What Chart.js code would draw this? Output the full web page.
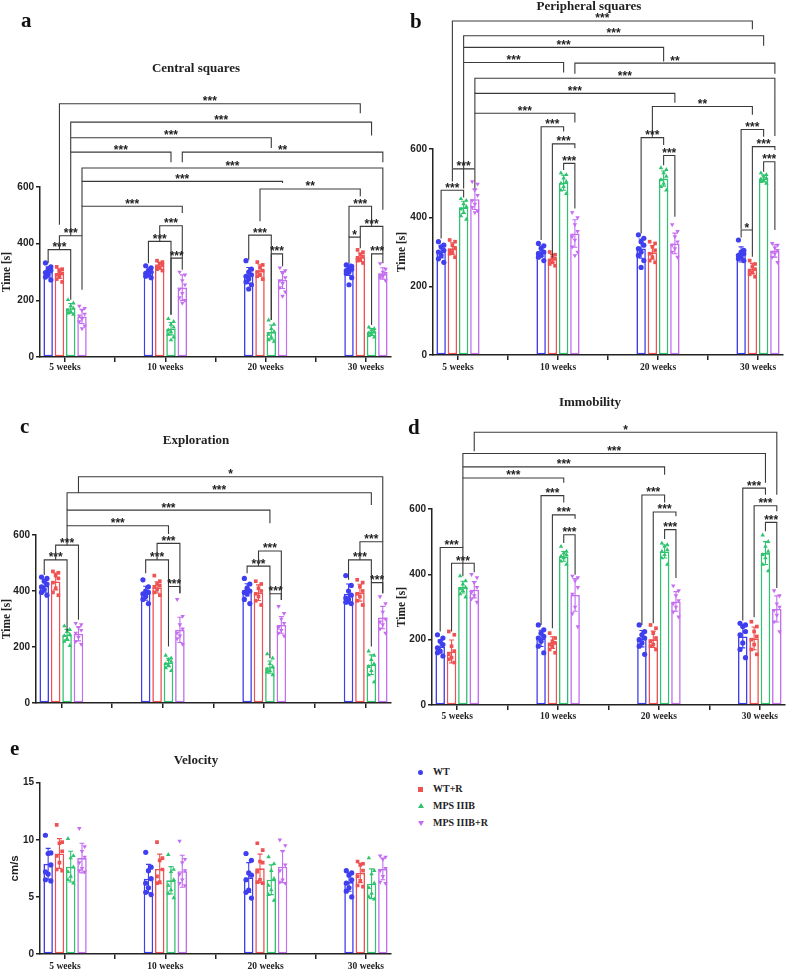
<!DOCTYPE html>
<html>
<head>
<meta charset="utf-8">
<script src="https://cdn.jsdelivr.net/npm/chart.js@4.4.1/dist/chart.umd.min.js"></script>
<style>
  body { margin: 0; background: #fff; width: 790px; height: 974px; position: relative; overflow: hidden; }
  canvas { position: absolute; }
  .letter { position: absolute; font: bold 21px 'Liberation Serif', serif; color: #111; line-height: 21px; }
  .key { position: absolute; left: 416px; height: 12px; font: bold 10px 'Liberation Serif', serif; color: #222; line-height: 12px; }
  .key span { position: absolute; left: 17px; top: 0; white-space: nowrap; }
  .key i { position: absolute; display: block; }
</style>
</head>
<body>
<canvas id="ca" width="395" height="380" style="left:0;top:0"></canvas>
<canvas id="cb" width="395" height="380" style="left:395px;top:0"></canvas>
<canvas id="cc" width="395" height="345" style="left:0;top:380px"></canvas>
<canvas id="cd" width="395" height="345" style="left:395px;top:380px"></canvas>
<canvas id="ce" width="395" height="239" style="left:0;top:735px"></canvas>

<div class="letter" style="left:21px;top:10px">a</div>
<div class="letter" style="left:410px;top:11px">b</div>
<div class="letter" style="left:20px;top:416px">c</div>
<div class="letter" style="left:408px;top:417px">d</div>
<div class="letter" style="left:10px;top:738px">e</div>

<div id="legend"></div>

<script>
const weeks = ['5 weeks', '10 weeks', '20 weeks', '30 weeks'];
const groups = ['WT', 'WT+R', 'MPS IIIB', 'MPS IIIB+R'];
const colors = ['#3f3ff0', '#ee5252', '#2fc36f', '#c46ef0'];
const shapes = ['circle', 'rect', 'triangle', 'triangle'];
const turns = [0, 0, 0, 180];

// a - central squares (rows: groups, columns: weeks)
const centralMean = [[300, 300, 288, 308], [294, 322, 305, 352], [172, 100, 88, 88], [143, 245, 272, 295]];
const centralSd = [[18, 15, 28, 20], [17, 12, 20, 15], [17, 22, 25, 12], [25, 45, 30, 20]];
const centralPts = [
  [[332, 318, 310, 305, 298, 290, 282, 272, 300], [322, 315, 305, 300, 295, 290, 285, 280], [340, 310, 300, 290, 285, 275, 265, 255, 240], [325, 320, 315, 310, 305, 300, 295, 280, 255]],
  [[318, 310, 300, 295, 290, 285, 275, 265, 305], [340, 335, 330, 325, 320, 315, 310, 305], [335, 325, 315, 305, 300, 290, 285, 275], [378, 370, 362, 355, 350, 345, 340, 332]],
  [[202, 190, 180, 172, 165, 160, 155, 150], [135, 125, 115, 105, 95, 88, 80, 70, 60], [130, 115, 100, 90, 80, 70, 60, 55], [105, 100, 95, 90, 85, 80, 75, 70]],
  [[180, 172, 165, 152, 145, 135, 125, 110, 100], [300, 290, 270, 255, 240, 225, 210, 200, 190], [315, 305, 295, 280, 270, 260, 245, 230, 215], [330, 310, 300, 295, 290, 285, 280, 270]]
];
// [week1, group1, week2, group2, level, leg1 end, leg2 end, label]
const centralSig = [
  [0, 1, 3, 1, 894, 467, 860, '***'], [0, 2, 3, 2, 829, 774, 782, '***'], [0, 2, 2, 2, 774, 723, 738, '***'],
  [0, 2, 1, 2, 723, 428, 687, '***'], [1, 3, 3, 3, 723, 687, 687, '**'], [0, 3, 3, 3, 667, 620, 520, '***'],
  [0, 3, 2, 3, 620, 532, 614, '***'], [0, 3, 1, 3, 532, 428, 508, '***'], [2, 1, 3, 1, 593, 479, 567, '**'],
  [0, 0, 0, 2, 379, 331, 202, '***'], [0, 1, 0, 3, 428, 379, 237, '***'],
  [1, 0, 1, 2, 408, 331, 149, '***'], [1, 1, 1, 3, 463, 408, 349, '***'], [1, 2, 1, 3, 349, 149, 308, '***'],
  [2, 0, 2, 2, 430, 343, 131, '***'], [2, 2, 2, 3, 364, 131, 320, '***'],
  [3, 0, 3, 2, 532, 423, 461, '***'], [3, 0, 3, 1, 423, 331, 384, '*'], [3, 1, 3, 3, 461, 423, 364, '***'],
  [3, 2, 3, 3, 364, 113, 331, '***']
];

// b - peripheral squares
const periphMean = [[301, 302, 310, 293], [310, 281, 299, 252], [430, 502, 514, 514], [454, 354, 325, 303]];
const periphSd = [[18, 15, 28, 22], [17, 12, 20, 15], [18, 22, 22, 10], [30, 40, 30, 18]];
const periphPts = [
  [[330, 320, 315, 305, 300, 290, 280, 270], [325, 318, 310, 300, 295, 290, 285, 275], [350, 340, 330, 320, 310, 300, 290, 275, 255], [335, 305, 300, 295, 290, 285, 280, 275]],
  [[335, 330, 320, 312, 305, 300, 295, 285], [300, 292, 285, 280, 275, 270, 265, 260], [330, 325, 315, 305, 295, 285, 275, 270], [275, 265, 258, 250, 245, 240, 235, 228]],
  [[455, 450, 440, 432, 425, 415, 405, 395], [530, 525, 515, 505, 500, 490, 480, 470], [545, 540, 530, 520, 510, 500, 490, 480], [530, 525, 520, 515, 512, 508, 505, 500]],
  [[505, 498, 480, 465, 450, 440, 430, 420, 415], [415, 400, 380, 360, 345, 335, 315, 300, 290], [380, 360, 345, 330, 320, 310, 300, 285], [325, 320, 312, 305, 300, 295, 285, 270]]
];
const periphSig = [
  [0, 1, 3, 1, 973, 544, 949, '***'], [0, 2, 3, 2, 930, 896, 901, '***'], [0, 2, 2, 2, 896, 852, 855, '***'],
  [0, 2, 1, 2, 852, 485, 823, '***'], [1, 3, 3, 3, 850, 819, 819, '**'], [0, 3, 3, 3, 806, 762, 638, '***'],
  [0, 3, 2, 3, 762, 704, 735, '***'], [2, 1, 3, 1, 724, 636, 700, '**'], [0, 3, 1, 3, 704, 544, 677, '***'],
  [1, 0, 1, 2, 665, 335, 651, '***'], [1, 1, 1, 3, 615, 284, 602, '***'], [1, 2, 1, 3, 558, 539, 427, '***'],
  [2, 0, 2, 2, 633, 354, 612, '***'], [2, 2, 2, 3, 581, 553, 403, '***'],
  [3, 0, 3, 2, 657, 366, 636, '***'], [3, 1, 3, 3, 607, 364, 597, '***'], [3, 2, 3, 3, 563, 534, 364, '***'],
  [3, 0, 3, 1, 364, 342, 286, '*'], [0, 0, 0, 2, 480, 339, 459, '***'], [0, 1, 0, 3, 542, 505, 485, '***']
];

// c - exploration
const explMean = [[418, 392, 404, 390], [434, 413, 394, 394], [243, 145, 128, 137], [247, 261, 279, 305]];
const explSd = [[22, 25, 22, 35], [30, 20, 28, 30], [20, 15, 22, 35], [25, 45, 30, 40]];
const explPts = [
  [[450, 445, 435, 425, 415, 405, 395, 385], [440, 415, 400, 395, 390, 380, 370, 355], [445, 425, 410, 400, 395, 390, 370, 355], [455, 420, 400, 385, 375, 370, 360, 355]],
  [[470, 465, 455, 445, 430, 410, 395, 385], [455, 435, 425, 420, 415, 405, 395, 385], [435, 425, 410, 400, 390, 380, 365, 350], [440, 430, 415, 400, 390, 380, 365, 350]],
  [[275, 262, 255, 245, 240, 230, 220, 205], [170, 160, 155, 148, 140, 135, 125, 115], [175, 160, 140, 130, 120, 115, 110, 100], [185, 170, 155, 140, 130, 115, 100, 75]],
  [[285, 280, 270, 260, 250, 235, 220, 210], [370, 310, 280, 265, 250, 240, 230, 210], [345, 320, 300, 285, 270, 260, 250, 240], [380, 355, 325, 300, 290, 280, 265, 250]]
];
const explSig = [
  [0, 3, 3, 3, 808, 751, 576, '*'], [0, 2, 3, 2, 751, 689, 707, '***'], [0, 2, 2, 2, 689, 633, 642, '***'],
  [0, 2, 1, 2, 633, 564, 604, '***'], [0, 0, 0, 2, 511, 457, 255, '***'], [0, 1, 0, 3, 564, 511, 297, '***'],
  [1, 0, 1, 2, 511, 463, 416, '***'], [1, 1, 1, 3, 570, 511, 392, '***'], [1, 2, 1, 3, 416, 202, 392, '***'],
  [2, 0, 2, 2, 489, 463, 390, '***'], [2, 1, 2, 3, 543, 489, 368, '***'], [2, 2, 2, 3, 390, 160, 368, '***'],
  [3, 1, 3, 3, 576, 511, 392, '***'], [3, 0, 3, 2, 511, 440, 430, '***'], [3, 2, 3, 3, 430, 202, 392, '***']
];

// d - immobility
const immobMean = [[179, 204, 203, 210], [164, 191, 201, 204], [361, 455, 470, 465], [353, 337, 317, 294]];
const immobSd = [[20, 25, 25, 35], [35, 18, 25, 35], [18, 15, 20, 35], [25, 50, 30, 40]];
const immobPts = [
  [[215, 205, 195, 185, 175, 165, 160, 150], [245, 230, 220, 210, 205, 195, 180, 160], [245, 225, 215, 205, 200, 190, 180, 155], [250, 245, 240, 225, 215, 190, 170, 145]],
  [[225, 215, 180, 165, 155, 145, 140, 130], [220, 205, 195, 190, 185, 180, 170, 160], [245, 235, 220, 205, 195, 185, 180, 170], [255, 240, 225, 210, 200, 185, 170, 155]],
  [[395, 380, 370, 360, 355, 350, 340, 330], [485, 470, 465, 460, 455, 450, 440, 430], [495, 490, 485, 475, 470, 460, 450, 430], [520, 500, 485, 470, 460, 450, 430, 410]],
  [[400, 390, 375, 360, 345, 335, 325, 315], [395, 390, 380, 360, 340, 300, 280, 240], [365, 350, 335, 320, 310, 300, 285, 270], [350, 335, 310, 300, 290, 275, 255, 225]]
];
const immobSig = [
  [0, 3, 3, 3, 835, 777, 644, '*'], [0, 2, 3, 2, 770, 729, 680, '***'], [0, 2, 2, 2, 729, 695, 705, '***'],
  [0, 2, 1, 2, 695, 482, 680, '***'], [0, 0, 0, 2, 482, 225, 394, '***'], [0, 1, 0, 3, 434, 225, 406, '***'],
  [1, 0, 1, 2, 641, 245, 620, '***'], [1, 1, 1, 3, 582, 235, 570, '***'], [1, 2, 1, 3, 521, 496, 399, '***'],
  [2, 0, 2, 2, 643, 245, 620, '***'], [2, 1, 2, 3, 591, 250, 578, '***'], [2, 2, 2, 3, 537, 508, 389, '***'],
  [3, 0, 3, 2, 664, 259, 644, '***'], [3, 1, 3, 3, 610, 269, 593, '***'], [3, 2, 3, 3, 559, 532, 358, '***']
];

// e - velocity
const veloMean = [[7.9, 6.6, 6.7, 6.3], [8.8, 7.45, 7.5, 7.1], [7.65, 6.45, 6.5, 6.15], [8.4, 7.25, 7.65, 7.45]];
const veloSd = [[1.35, 1.25, 1.3, 0.8], [1.3, 1.3, 1.25, 0.85], [1.35, 1.2, 1.3, 1.3], [1.3, 1.4, 1.4, 0.95]];
const veloPts = [
  [[10.4, 8.85, 8.8, 7.8, 7.2, 7.0, 6.5, 6.4], [8.9, 7.6, 7.3, 6.6, 6.2, 5.8, 5.4, 5.2], [8.8, 8.2, 7.1, 6.9, 6.5, 5.6, 5.4, 4.9], [7.3, 7.1, 6.9, 6.5, 6.2, 5.8, 5.5, 5.0]],
  [[11.3, 9.8, 9.7, 9.0, 8.6, 8.0, 7.4, 7.3], [9.8, 8.4, 8.2, 7.4, 6.8, 6.3, 6.2], [9.7, 9.1, 8.1, 8.0, 7.2, 6.5, 6.3, 6.2], [8.1, 7.9, 7.8, 7.3, 6.8, 6.4, 6.0, 5.9]],
  [[10.1, 8.6, 8.4, 7.6, 7.2, 6.8, 6.5, 6.2], [8.7, 7.4, 7.2, 6.5, 6.0, 5.6, 5.3, 4.9], [8.5, 7.9, 7.3, 6.6, 6.0, 5.6, 5.2, 4.7], [8.4, 7.3, 7.0, 6.2, 5.8, 5.3, 5.0, 4.8]],
  [[11.0, 9.4, 9.0, 8.5, 8.0, 7.5, 7.3, 7.2], [9.9, 8.3, 8.0, 7.3, 7.0, 6.5, 6.2, 6.0], [10.0, 9.5, 9.0, 7.8, 7.3, 6.5, 6.3, 6.2], [8.6, 8.5, 8.3, 7.5, 7.3, 6.8, 6.3, 6.2]]
];

const ink = '#222';
const serif = 'Liberation Serif';
const sans = 'Liberation Sans';
const slot = 0.5 * 0.9 / 4;          // width of one bar slot, in week units
const spread = [-1, 1, 0, 1, -1, 0, -1, 1, 0];

function errorBars(means, sd) {
  return {
    id: 'errorBars',
    afterDatasetsDraw(chart) {
      const ctx = chart.ctx, y = chart.scales.y;
      ctx.save();
      ctx.lineWidth = 1.1;
      means.forEach((row, j) => {
        ctx.strokeStyle = colors[j];
        chart.getDatasetMeta(j).data.forEach((bar, i) => {
          const top = y.getPixelForValue(row[i] + sd[j][i]);
          const bot = y.getPixelForValue(row[i] - sd[j][i]);
          ctx.beginPath();
          ctx.moveTo(bar.x, bot); ctx.lineTo(bar.x, top);
          ctx.moveTo(bar.x - 2.5, top); ctx.lineTo(bar.x + 2.5, top);
          ctx.moveTo(bar.x - 2.5, bot); ctx.lineTo(bar.x + 2.5, bot);
          ctx.stroke();
        });
      });
      ctx.restore();
    }
  };
}

function brackets(list) {
  return {
    id: 'brackets',
    afterDraw(chart) {
      const ctx = chart.ctx, y = chart.scales.y;
      ctx.save();
      ctx.strokeStyle = '#3a3a3a';
      ctx.lineWidth = 1.1;
      ctx.fillStyle = ink;
      ctx.font = 'bold 12px "' + sans + '"';
      ctx.textAlign = 'center';
      ctx.textBaseline = 'alphabetic';
      list.forEach(([w1, g1, w2, g2, level, end1, end2, txt]) => {
        const x1 = chart.getDatasetMeta(g1).data[w1].x;
        const x2 = chart.getDatasetMeta(g2).data[w2].x;
        const yl = y.getPixelForValue(level);
        ctx.beginPath();
        ctx.moveTo(x1, y.getPixelForValue(end1));
        ctx.lineTo(x1, yl);
        ctx.lineTo(x2, yl);
        ctx.lineTo(x2, y.getPixelForValue(end2));
        ctx.stroke();
        ctx.fillText(txt, (x1 + x2) / 2, yl + 1.5);
      });
      ctx.restore();
    }
  };
}

function panel(id, o) {
  const datasets = [];
  groups.forEach((g, j) => {
    datasets.push({
      type: 'bar', label: g, order: 2,
      data: o.means[j].map((m, i) => ({ x: i, y: m })),
      backgroundColor: '#fff', borderColor: colors[j], borderWidth: 1.6, borderSkipped: false,
      categoryPercentage: 0.9, barPercentage: 0.84
    });
  });
  groups.forEach((g, j) => {
    const pts = [];
    o.points[j].forEach((vals, i) => {
      vals.forEach((v, k) => pts.push({ x: i + (j - 1.5) * slot + spread[k] * 0.027, y: v }));
    });
    datasets.push({
      type: 'scatter', label: g, order: 1, data: pts,
      pointStyle: shapes[j], pointRotation: turns[j], pointRadius: 2.6,
      backgroundColor: colors[j], borderWidth: 0
    });
  });

  new Chart(document.getElementById(id), {
    type: 'bar',
    data: { datasets },
    plugins: [errorBars(o.means, o.sd), brackets(o.sig || [])],
    options: {
      responsive: false,
      animation: false,
      layout: { padding: { left: 0, right: o.pr, top: 0, bottom: 0 } },
      plugins: {
        legend: { display: false },
        tooltip: { enabled: false },
        title: {
          display: true, text: o.title, color: ink,
          font: { family: serif, weight: 'bold', size: 13, lineHeight: 1 },
          padding: { top: o.tt, bottom: o.tb }
        }
      },
      scales: {
        x: {
          type: 'linear', min: -0.25, max: 3.25, offset: false,
          afterBuildTicks: s => { s.ticks = [0, 0.5, 1, 1.5, 2, 2.5, 3].map(v => ({ value: v })); },
          afterFit: s => { s.height = o.xh; },
          grid: { offset: false, drawOnChartArea: false, drawTicks: true, tickLength: 5, color: ink, lineWidth: 1.5 },
          border: { color: ink, width: 1.5 },
          ticks: {
            autoSkip: false, maxRotation: 0, padding: o.lp, color: ink,
            font: { family: serif, weight: 'bold', size: 9.5 },
            callback: v => (o.labels && Number.isInteger(v)) ? weeks[v] : ''
          }
        },
        y: {
          min: 0, max: o.max,
          afterFit: s => { s.width = o.yw; },
          grid: { drawOnChartArea: false, drawTicks: true, tickLength: 4, color: ink, lineWidth: 1.5 },
          border: { color: ink, width: 1.5 },
          ticks: { stepSize: o.step, padding: 2, color: ink, font: { family: sans, weight: 'bold', size: 10 } },
          title: {
            display: true, text: o.yTitle, color: ink, padding: { top: o.yp || 0, bottom: 0 },
            font: { family: o.yFont || serif, weight: 'bold', size: 11.5 }
          }
        }
      }
    }
  });
}

panel('ca', { title: 'Central squares', means: centralMean, sd: centralSd, points: centralPts, sig: centralSig,
  max: 600, step: 200, yTitle: 'Time [s]', yw: 40, xh: 23, pr: 3, tt: 62.5, tb: 111.5, lp: 0, labels: true });
panel('cb', { title: 'Peripheral squares', means: periphMean, sd: periphSd, points: periphPts, sig: periphSig,
  max: 600, step: 200, yTitle: 'Time [s]', yw: 38, xh: 25, pr: 7, tt: 0, tb: 136, lp: 2, labels: true });
panel('cc', { title: 'Exploration', means: explMean, sd: explSd, points: explPts, sig: explSig,
  max: 600, step: 200, yTitle: 'Time [s]', yw: 36, xh: 22, pr: 3, tt: 54.5, tb: 87.5, lp: 0, labels: false });
panel('cd', { title: 'Immobility', means: immobMean, sd: immobSd, points: immobPts, sig: immobSig,
  max: 600, step: 200, yTitle: 'Time [s]', yw: 37, xh: 20, pr: 5, tt: 16.5, tb: 99.5, lp: 1, labels: true });
panel('ce', { title: 'Velocity', means: veloMean, sd: veloSd, points: veloPts,
  max: 15, step: 5, yTitle: 'cm/s', yFont: sans, yp: 8, yw: 40, xh: 20, pr: 3, tt: 19.5, tb: 15.2, lp: 2, labels: true });

// legend
const legend = document.getElementById('legend');
const marks = [
  'left:2px;top:4px;width:5px;height:5px;border-radius:50%;',
  'left:2px;top:4px;width:5px;height:5px;',
  'left:1.5px;top:3px;width:0;height:0;border-left:3px solid transparent;border-right:3px solid transparent;border-bottom:5px solid ',
  'left:1.5px;top:4px;width:0;height:0;border-left:3px solid transparent;border-right:3px solid transparent;border-top:5px solid '
];
groups.forEach((g, j) => {
  const row = document.createElement('div');
  row.className = 'key';
  row.style.top = (766 + j * 17) + 'px';
  const m = document.createElement('i');
  m.style.cssText = marks[j] + (j < 2 ? 'background:' + colors[j] : colors[j]);
  const t = document.createElement('span');
  t.textContent = g;
  row.appendChild(m);
  row.appendChild(t);
  legend.appendChild(row);
});
</script>
</body>
</html>
